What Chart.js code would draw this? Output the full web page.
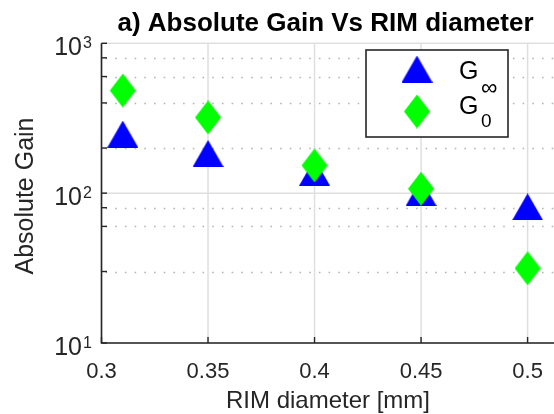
<!DOCTYPE html>
<html>
<head>
<meta charset="utf-8">
<script src="https://cdn.jsdelivr.net/npm/chart.js@4"></script>
<style>
    body { margin: 0; background: #fff; }
    #wrap { width: 554px; height: 414px; }
</style>
</head>
<body>
<div id="wrap"><canvas id="gainChart" width="554" height="414"></canvas></div>
<script>
// data
const rimDiameter = [0.31, 0.35, 0.4, 0.45, 0.5];
const gainInf = [248, 184, 138, 101, 81];
const gainZero = [484, 320, 153, 107, 31.5];
const xTickValues = [0.3, 0.35, 0.4, 0.45, 0.5];
const xTickLabels = ['0.3', '0.35', '0.4', '0.45', '0.5'];
const yTickValues = [10, 100, 1000];
const yTickExponents = ['1', '2', '3'];

const FONT = '"Liberation Sans", Arial, Helvetica, sans-serif';
const INK = '#262626';

// MATLAB style markers as small canvases
function makeTriangle(color) {
    const c = document.createElement('canvas');
    c.width = 31; c.height = 27;
    const g = c.getContext('2d');
    g.fillStyle = color;
    g.beginPath();
    g.moveTo(15.5, 0);
    g.lineTo(31, 27);
    g.lineTo(0, 27);
    g.closePath();
    g.fill();
    return c;
}

function makeDiamond(color) {
    const c = document.createElement('canvas');
    c.width = 26; c.height = 34;
    const g = c.getContext('2d');
    g.fillStyle = color;
    g.beginPath();
    g.moveTo(13, 0);
    g.lineTo(26, 17);
    g.lineTo(13, 34);
    g.lineTo(0, 17);
    g.closePath();
    g.fill();
    return c;
}

const triangleMarker = makeTriangle('#0000ff');
const diamondMarker = makeDiamond('#00ff00');

const axesPlugin = {
    id: 'matlabAxes',
    beforeDatasetsDraw(chart) {
        const ctx = chart.ctx;
        const area = chart.chartArea;
        const xs = chart.scales.x;
        const ys = chart.scales.y;
        ctx.save();

        // minor horizontal grid (dotted)
        ctx.strokeStyle = '#b4b4b4';
        ctx.lineWidth = 1.6;
        ctx.setLineDash([1.6, 8.1]);
        ys.ticks.forEach(t => {
            const lg = Math.log10(t.value);
            if (Math.abs(lg - Math.round(lg)) < 1e-6) return;
            const y = Math.round(ys.getPixelForValue(t.value)) + 0.5;
            ctx.beginPath();
            ctx.moveTo(area.left + 4, y);
            ctx.lineTo(area.right, y);
            ctx.stroke();
        });

        // major grid
        ctx.setLineDash([]);
        ctx.strokeStyle = '#dfdfdf';
        ctx.lineWidth = 1.5;
        yTickValues.forEach(v => {
            const y = ys.getPixelForValue(v);
            ctx.beginPath();
            ctx.moveTo(area.left, y);
            ctx.lineTo(area.right, y);
            ctx.stroke();
        });
        xTickValues.forEach(v => {
            const x = xs.getPixelForValue(v);
            ctx.beginPath();
            ctx.moveTo(x, area.top);
            ctx.lineTo(x, area.bottom);
            ctx.stroke();
        });
        ctx.restore();
    },
    afterDatasetsDraw(chart) {
        const ctx = chart.ctx;
        const area = chart.chartArea;
        const xs = chart.scales.x;
        const ys = chart.scales.y;
        ctx.save();

        // axis lines
        ctx.strokeStyle = INK;
        ctx.lineWidth = 1.6;
        ctx.beginPath();
        ctx.moveTo(area.left, area.top);
        ctx.lineTo(area.left, area.bottom);
        ctx.lineTo(area.right, area.bottom);
        ctx.stroke();

        // inward ticks
        ctx.lineWidth = 1.4;
        ys.ticks.forEach(t => {
            const y = ys.getPixelForValue(t.value);
            ctx.beginPath();
            ctx.moveTo(area.left, y);
            ctx.lineTo(area.left + 5.5, y);
            ctx.stroke();
        });
        xTickValues.forEach(v => {
            const x = xs.getPixelForValue(v);
            ctx.beginPath();
            ctx.moveTo(x, area.bottom);
            ctx.lineTo(x, area.bottom - 6);
            ctx.stroke();
        });

        // legend box
        const lx = 366, ly = 50, lw = 142, lh = 87;
        ctx.fillStyle = '#fff';
        ctx.fillRect(lx, ly, lw, lh);
        ctx.strokeStyle = INK;
        ctx.lineWidth = 1.6;
        ctx.strokeRect(lx, ly, lw, lh);
        ctx.drawImage(triangleMarker, 417 - 15.5, 69 - 13.5);
        ctx.drawImage(diamondMarker, 417 - 13, 111.5 - 17);
        ctx.fillStyle = '#000';
        ctx.textAlign = 'left';
        ctx.textBaseline = 'alphabetic';
        ctx.font = '25px ' + FONT;
        ctx.fillText('G', 459, 79);
        ctx.fillText('G', 459, 114);
        ctx.font = '23px ' + FONT;
        ctx.fillText('\u221E', 481, 95);
        ctx.font = '19px ' + FONT;
        ctx.fillText('0', 481, 127);

        ctx.restore();
    },
    afterDraw(chart) {
        const ctx = chart.ctx;
        const xs = chart.scales.x;
        const ys = chart.scales.y;
        ctx.save();
        ctx.fillStyle = INK;
        ctx.textBaseline = 'alphabetic';

        // x tick labels
        ctx.font = '22px ' + FONT;
        ctx.textAlign = 'center';
        xTickValues.forEach((v, i) => {
            ctx.fillText(xTickLabels[i], xs.getPixelForValue(v), 378);
        });

        // y tick labels as 10^n
        yTickValues.forEach((v, i) => {
            const y = ys.getPixelForValue(v);
            ctx.font = '25px ' + FONT;
            ctx.textAlign = 'right';
            ctx.fillText('10', 82, y + 12);
            ctx.font = '16px ' + FONT;
            ctx.textAlign = 'left';
            ctx.fillText(yTickExponents[i], 83, y + 4.5);
        });

        // axis titles
        ctx.font = '24px ' + FONT;
        ctx.textAlign = 'center';
        ctx.fillText('RIM diameter [mm]', 328, 408);
        ctx.save();
        ctx.translate(33, 196);
        ctx.rotate(-Math.PI / 2);
        ctx.font = '25px ' + FONT;
        ctx.fillText('Absolute Gain', 0, 0);
        ctx.restore();

        // title
        ctx.fillStyle = '#000';
        ctx.font = 'bold 26px ' + FONT;
        ctx.fillText('a) Absolute Gain Vs RIM diameter', 325.5, 31);
        ctx.restore();
    }
};

const ctx = document.getElementById('gainChart').getContext('2d');
new Chart(ctx, {
    type: 'scatter',
    data: {
        datasets: [{
            label: 'G\u221E',
            data: rimDiameter.map((x, i) => ({ x: x, y: gainInf[i] })),
            pointStyle: triangleMarker,
            pointRadius: 14,
            order: 1
        }, {
            label: 'G0',
            data: rimDiameter.map((x, i) => ({ x: x, y: gainZero[i] })),
            pointStyle: diamondMarker,
            pointRadius: 14,
            order: 0
        }]
    },
    options: {
        responsive: false,
        animation: false,
        events: [],
        layout: {
            autoPadding: false,
            padding: { left: 101.5, top: 43.3, right: 0, bottom: 71 }
        },
        scales: {
            x: {
                type: 'linear',
                display: false,
                min: 0.3,
                max: 0.5124
            },
            y: {
                type: 'logarithmic',
                display: false,
                min: 10,
                max: 1000
            }
        },
        plugins: {
            legend: { display: false },
            tooltip: { enabled: false }
        }
    },
    plugins: [axesPlugin]
});
</script>
</body>
</html>
